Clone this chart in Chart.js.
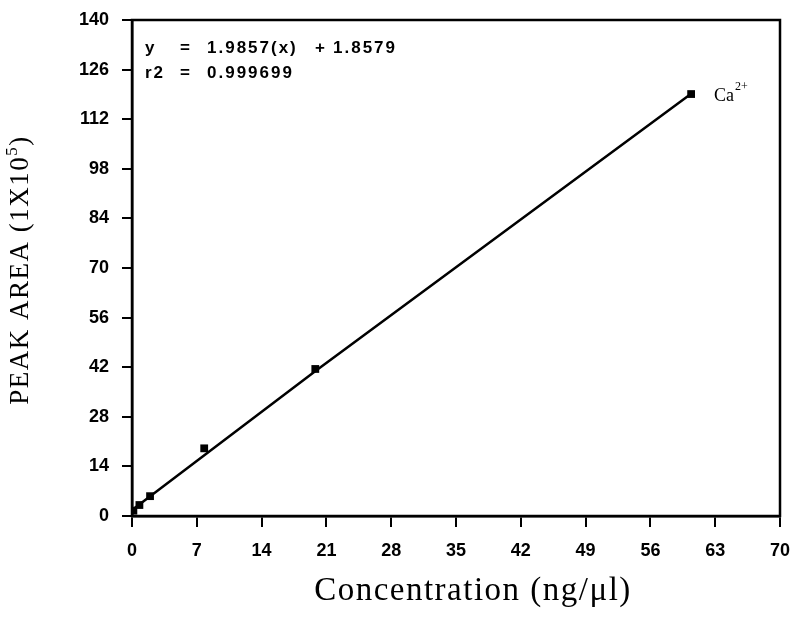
<!DOCTYPE html>
<html>
<head>
<meta charset="utf-8">
<script src="https://cdn.jsdelivr.net/npm/chart.js@4"></script>
<style>
  html, body { margin: 0; padding: 0; background: #fff; }
  #wrap { width: 797px; height: 618px; }
</style>
</head>
<body>
<div id="wrap"><canvas id="chart" width="797" height="618"></canvas></div>
<script>
// calibration points
const concX = [0.15, 0.8, 1.95, 7.8, 19.8, 60.4];
const areaY = [1.5, 3.1, 5.6, 19.1, 41.5, 119.1];

// fitted line
const fitX = [0.15, 20, 60.4];
const fitY = [2.0, 41.3, 119.2];

const xTicks = [0, 7, 14, 21, 28, 35, 42, 49, 56, 63, 70];
const yTicks = [0, 14, 28, 42, 56, 70, 84, 98, 112, 126, 140];

const eqLines = [
  ['y', '=', '1.9857(x)', '+', '1.8579'],
  ['r2', '=', '0.999699']
];

const sans = '"Liberation Sans", Arial, sans-serif';
const serif = '"Liberation Serif", "Times New Roman", serif';

const decor = {
  id: 'decor',
  afterDraw(c) {
    const ctx = c.ctx;
    const a = c.chartArea;
    ctx.save();
    // box
    ctx.strokeStyle = '#000';
    ctx.lineWidth = 2.5;
    ctx.strokeRect(a.left, a.top, a.right - a.left, a.bottom - a.top);

    // equation
    ctx.fillStyle = '#000';
    ctx.font = 'bold 17px ' + sans;
    ctx.letterSpacing = '2px';
    ctx.textBaseline = 'middle';
    const cols = [145, 180, 207, 315, 333];
    eqLines.forEach((row, i) => {
      row.forEach((t, j) => ctx.fillText(t, cols[j], 48 + i * 25));
    });

    // Ca2+ label
    ctx.letterSpacing = '0px';
    ctx.font = '18px ' + serif;
    ctx.fillText('Ca', 714, 96);
    ctx.font = '12px ' + serif;
    ctx.fillText('2+', 735, 87);

    // x title
    ctx.font = '33px ' + serif;
    ctx.letterSpacing = '1.5px';
    ctx.textAlign = 'center';
    ctx.fillText('Concentration (ng/\u03bcl)', 473, 591);

    // y title
    ctx.translate(21, 270);
    ctx.rotate(-Math.PI / 2);
    ctx.letterSpacing = '1.5px';
    ctx.font = '27px ' + serif;
    const main = 'PEAK AREA (1X10';
    const wMain = ctx.measureText(main).width;
    ctx.font = '17px ' + serif;
    const wSup = ctx.measureText('5').width;
    ctx.font = '27px ' + serif;
    const wEnd = ctx.measureText(')').width;
    const total = wMain + wSup + wEnd;
    ctx.textAlign = 'left';
    let x0 = -total / 2;
    ctx.fillText(main, x0, 0);
    ctx.font = '17px ' + serif;
    ctx.fillText('5', x0 + wMain, -8);
    ctx.font = '27px ' + serif;
    ctx.fillText(')', x0 + wMain + wSup, 0);
    ctx.restore();
  }
};

new Chart(document.getElementById('chart'), {
  type: 'scatter',
  data: {
    datasets: [
      {
        label: 'fit',
        data: fitX.map((x, i) => ({ x: x, y: fitY[i] })),
        showLine: true,
        borderColor: '#000',
        borderWidth: 2.5,
        pointRadius: 0,
        fill: false
      },
      {
        label: 'Ca2+',
        data: concX.map((x, i) => ({ x: x, y: areaY[i] })),
        showLine: false,
        pointStyle: 'rect',
        pointRadius: 5.5,
        backgroundColor: '#000',
        borderColor: '#000',
        borderWidth: 0
      }
    ]
  },
  options: {
    responsive: false,
    animation: false,
    layout: { padding: { left: 0, top: 20, right: 17, bottom: 0 } },
    plugins: {
      legend: { display: false },
      tooltip: { enabled: false }
    },
    scales: {
      x: {
        type: 'linear',
        min: 0,
        max: 70,
        afterFit: s => { s.height = 102; s.paddingLeft = 0; s.paddingRight = 0; },
        afterBuildTicks: s => { s.ticks = xTicks.map(v => ({ value: v })); },
        grid: { drawOnChartArea: false, tickLength: 11, color: '#000', lineWidth: 2 },
        border: { color: '#000', width: 2.5 },
        ticks: { color: '#000', font: { family: sans, size: 18, weight: 'bold' }, padding: 13, maxRotation: 0 }
      },
      y: {
        min: 0,
        max: 140,
        afterFit: s => { s.width = 132; s.paddingTop = 0; s.paddingBottom = 0; },
        afterBuildTicks: s => { s.ticks = yTicks.map(v => ({ value: v })); },
        grid: { drawOnChartArea: false, tickLength: 10, color: '#000', lineWidth: 2 },
        border: { color: '#000', width: 2.5 },
        ticks: { color: '#000', font: { family: sans, size: 18, weight: 'bold' }, padding: 13 }
      }
    }
  },
  plugins: [decor]
});
</script>
</body>
</html>
